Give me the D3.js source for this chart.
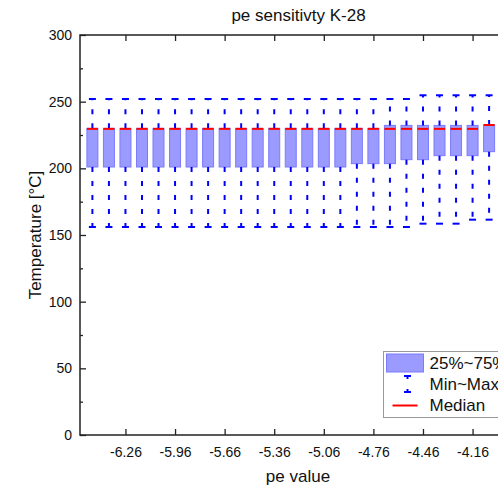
<!DOCTYPE html>
<html>
<head>
<meta charset="utf-8">
<script src="https://cdn.jsdelivr.net/npm/d3@7"></script>
<style>
  html, body { margin: 0; padding: 0; background: #fff; }
  svg { display: block; font-family: "Liberation Sans", Arial, sans-serif; }
</style>
</head>
<body>
<svg id="chart" width="498" height="486"></svg>
<script>
// ---- data ----
const peValues = [-6.46, -6.36, -6.26, -6.16, -6.06, -5.96, -5.86, -5.76, -5.66, -5.56,
                  -5.46, -5.36, -5.26, -5.16, -5.06, -4.96, -4.86, -4.76, -4.66, -4.56,
                  -4.46, -4.36, -4.26, -4.16, -4.06];
const maxVals = [252, 252, 252, 252, 252, 252, 252, 252, 252, 252,
                 252, 252, 252, 252, 252, 252, 252, 252, 252, 252,
                 254.8, 254.8, 254.8, 254.8, 254.8];
const q3Vals = [230, 230, 230, 230, 230, 230, 230, 230, 230, 230,
                230, 230, 230, 230, 230, 230, 230, 230, 232.2, 232.2,
                232.2, 232.2, 232.2, 232.2, 232.5];
const medianVals = [229.6, 229.6, 229.6, 229.6, 229.6, 229.6, 229.6, 229.6, 229.6, 229.6,
                    229.6, 229.6, 229.6, 229.6, 229.6, 229.6, 229.6, 229.6, 229.6, 229.6,
                    229.6, 229.6, 229.6, 229.6, 232.5];
const q1Vals = [201, 201, 201, 201, 201, 201, 201, 201, 201, 201,
                201, 201, 201, 201, 201, 201, 203.5, 203.5, 203.5, 206.5,
                206.5, 209.5, 209.5, 209.5, 212.5];
const minVals = [156, 156, 156, 156, 156, 156, 156, 156, 156, 156,
                 156, 156, 156, 156, 156, 156, 156, 156, 156, 156,
                 158.5, 158.5, 158.5, 161.5, 161.5];
const xTickValues = [-6.26, -5.96, -5.66, -5.36, -5.06, -4.76, -4.46, -4.16];
const xTickLabels = ["-6.26", "-5.96", "-5.66", "-5.36", "-5.06", "-4.76", "-4.46", "-4.16"];
const yTickValues = [0, 50, 100, 150, 200, 250, 300];
const yMinorValues = [25, 75, 125, 175, 225, 275];
const legendLabels = ["25%~75%", "Min~Max", "Median"];
const titleText = "pe sensitivty K-28";
const xTitle = "pe value";
const yTitle = "Temperature [°C]";

// ---- layout ----
const svg = d3.select("#chart");
const pL = 80, pR = 501.5, pT = 35, pB = 435;
const x = d3.scaleLinear().domain([-6.535, -3.985]).range([pL, pR]);
const y = d3.scaleLinear().domain([0, 300]).range([pB, pT]);

const boxW = 11, capW = 7;
const boxFill = "#9a9aff", boxStroke = "#7b7bff", whiskerColor = "#0000ff", medColor = "#ff0000";
const frameColor = "#222";

const data = peValues.map((p, i) => ({
  p, min: minVals[i], q1: q1Vals[i], med: medianVals[i], q3: q3Vals[i], max: maxVals[i]
}));

// ---- boxes ----
const g = svg.append("g");
const bx = g.selectAll("g.box").data(data).join("g").attr("class", "box");

bx.append("rect")
  .attr("x", d => x(d.p) - boxW / 2)
  .attr("y", d => y(d.q3))
  .attr("width", boxW)
  .attr("height", d => y(d.q1) - y(d.q3))
  .attr("fill", boxFill)
  .attr("stroke", boxStroke)
  .attr("stroke-width", 1);

bx.append("line")
  .attr("x1", d => x(d.p)).attr("x2", d => x(d.p))
  .attr("y1", d => y(d.q3)).attr("y2", d => y(d.max))
  .attr("stroke", whiskerColor).attr("stroke-width", 2)
  .attr("stroke-dasharray", "5,9");
bx.append("line")
  .attr("x1", d => x(d.p)).attr("x2", d => x(d.p))
  .attr("y1", d => y(d.q1)).attr("y2", d => y(d.min))
  .attr("stroke", whiskerColor).attr("stroke-width", 2)
  .attr("stroke-dasharray", "5,9");
bx.append("line")
  .attr("x1", d => x(d.p) - capW / 2).attr("x2", d => x(d.p) + capW / 2)
  .attr("y1", d => y(d.max)).attr("y2", d => y(d.max))
  .attr("stroke", whiskerColor).attr("stroke-width", 2);
bx.append("line")
  .attr("x1", d => x(d.p) - capW / 2).attr("x2", d => x(d.p) + capW / 2)
  .attr("y1", d => y(d.min)).attr("y2", d => y(d.min))
  .attr("stroke", whiskerColor).attr("stroke-width", 2);
bx.append("line")
  .attr("x1", d => x(d.p) - boxW / 2).attr("x2", d => x(d.p) + boxW / 2)
  .attr("y1", d => y(d.med)).attr("y2", d => y(d.med))
  .attr("stroke", medColor).attr("stroke-width", 2);

// ---- axes ----
const xAxisB = d3.axisBottom(x).tickValues(xTickValues)
  .tickFormat((d, i) => xTickLabels[i]).tickSizeInner(-6).tickSizeOuter(0).tickPadding(12);
const gxb = svg.append("g").attr("transform", `translate(0,${pB})`).call(xAxisB);
gxb.select(".domain").remove();
gxb.selectAll(".tick line").attr("stroke", frameColor).attr("stroke-width", 1.3);
gxb.selectAll(".tick text").attr("font-size", 14).attr("fill", "#111")
  .attr("font-family", "Liberation Sans, Arial, sans-serif");

const xAxisT = d3.axisTop(x).tickValues(xTickValues).tickFormat("").tickSizeInner(-6).tickSizeOuter(0);
const gxt = svg.append("g").attr("transform", `translate(0,${pT})`).call(xAxisT);
gxt.select(".domain").remove();
gxt.selectAll(".tick line").attr("stroke", frameColor).attr("stroke-width", 1.3);

const yAxis = d3.axisLeft(y).tickValues(yTickValues).tickSizeInner(-6).tickSizeOuter(0).tickPadding(8);
const gy = svg.append("g").attr("transform", `translate(${pL},0)`).call(yAxis);
gy.select(".domain").remove();
gy.selectAll(".tick line").attr("stroke", frameColor).attr("stroke-width", 1.3);
gy.selectAll(".tick text").attr("font-size", 14).attr("fill", "#111")
  .attr("font-family", "Liberation Sans, Arial, sans-serif");

const yMinor = d3.axisLeft(y).tickValues(yMinorValues).tickFormat("").tickSizeInner(-3).tickSizeOuter(0);
const gym = svg.append("g").attr("transform", `translate(${pL},0)`).call(yMinor);
gym.select(".domain").remove();
gym.selectAll(".tick line").attr("stroke", frameColor).attr("stroke-width", 1.3);

svg.append("rect")
  .attr("x", pL).attr("y", pT)
  .attr("width", pR - pL).attr("height", pB - pT)
  .attr("fill", "none").attr("stroke", frameColor).attr("stroke-width", 1.5);

// ---- titles ----
svg.append("text").attr("x", 298.5).attr("y", 21).attr("text-anchor", "middle")
  .attr("font-size", 17).attr("fill", "#111").text(titleText);
svg.append("text").attr("x", 298).attr("y", 482).attr("text-anchor", "middle")
  .attr("font-size", 17).attr("fill", "#111").text(xTitle);
svg.append("text").attr("transform", `translate(41,${(pT + pB) / 2}) rotate(-90)`)
  .attr("text-anchor", "middle").attr("font-size", 17).attr("fill", "#111").text(yTitle);

// ---- legend ----
const lg = svg.append("g");
lg.append("rect").attr("x", 383.5).attr("y", 351.5).attr("width", 140).attr("height", 66)
  .attr("fill", "#fff").attr("stroke", "#999").attr("stroke-width", 1);
lg.append("rect").attr("x", 386.5).attr("y", 354).attr("width", 37).attr("height", 18)
  .attr("fill", boxFill).attr("stroke", boxStroke).attr("stroke-width", 1);
const ix = 407.5;
lg.append("line").attr("x1", ix - 3.5).attr("x2", ix + 3.5).attr("y1", 376).attr("y2", 376)
  .attr("stroke", whiskerColor).attr("stroke-width", 2);
lg.append("line").attr("x1", ix - 3.5).attr("x2", ix + 3.5).attr("y1", 392).attr("y2", 392)
  .attr("stroke", whiskerColor).attr("stroke-width", 2);
lg.append("line").attr("x1", ix).attr("x2", ix).attr("y1", 376).attr("y2", 379)
  .attr("stroke", whiskerColor).attr("stroke-width", 2);
lg.append("line").attr("x1", ix).attr("x2", ix).attr("y1", 389).attr("y2", 392)
  .attr("stroke", whiskerColor).attr("stroke-width", 2);
lg.append("line").attr("x1", 392.5).attr("x2", 417.5).attr("y1", 405.5).attr("y2", 405.5)
  .attr("stroke", medColor).attr("stroke-width", 2);
const lgBase = [369, 390, 411];
lg.selectAll("text.lt").data(legendLabels).join("text").attr("class", "lt")
  .attr("x", 429.5).attr("y", (d, i) => lgBase[i])
  .attr("font-size", 17).attr("fill", "#111").text(d => d);
</script>
</body>
</html>
